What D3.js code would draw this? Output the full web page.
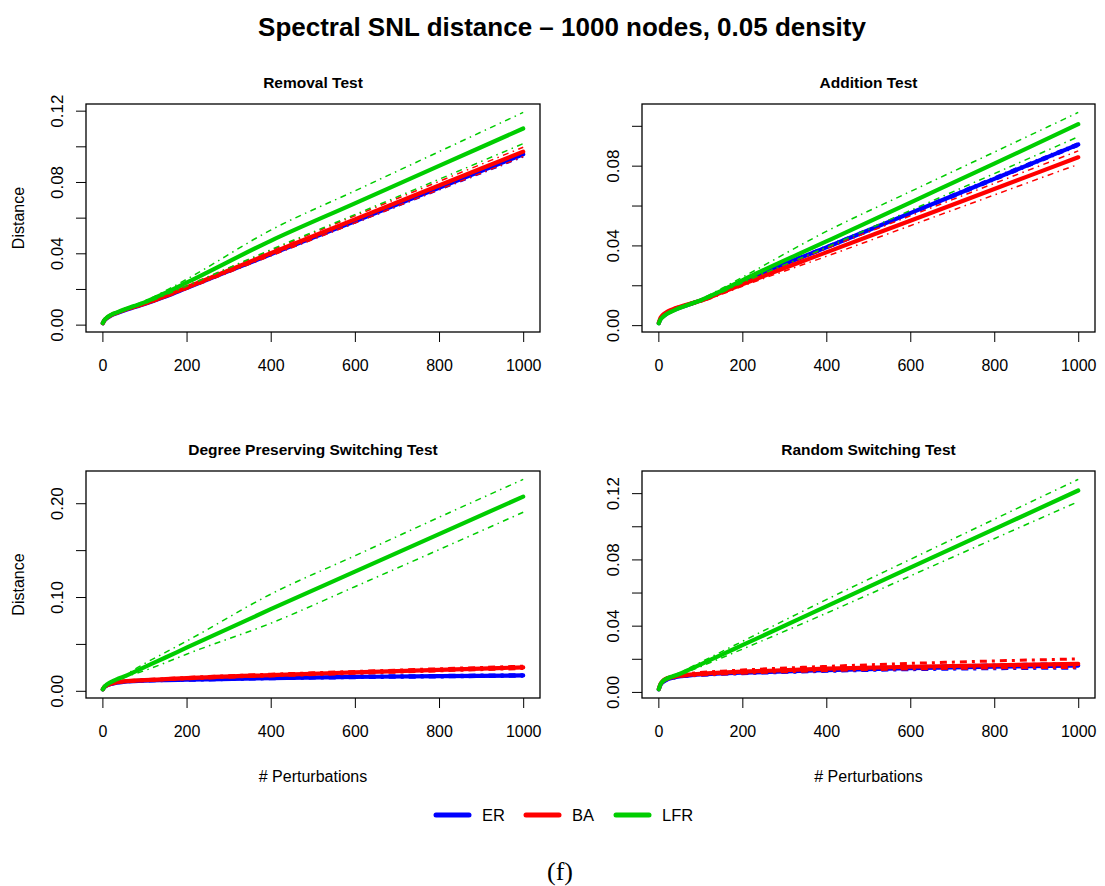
<!DOCTYPE html>
<html>
<head>
<meta charset="utf-8">
<script src="https://cdn.jsdelivr.net/npm/d3@7"></script>
<style>
  body { margin: 0; background: #fff; }
  svg text { font-family: "Liberation Sans", Arial, sans-serif; fill: #000; }
</style>
</head>
<body>
<svg id="chart" width="1105" height="886"></svg>
<script>
// perturbation counts sampled along x
var xs = [1, 5, 10, 20, 35, 50, 75, 100, 150, 200, 400, 600, 800, 1000];

// Removal Test
var remER    = [0.0008, 0.0024, 0.0035, 0.0050, 0.0065, 0.0078, 0.0097, 0.0115, 0.0158, 0.0205, 0.0395, 0.0580, 0.0768, 0.0955];
var remERlo  = [0.0007, 0.0022, 0.0033, 0.0048, 0.0062, 0.0075, 0.0094, 0.0112, 0.0154, 0.0200, 0.0387, 0.0570, 0.0755, 0.0940];
var remERhi  = [0.0009, 0.0026, 0.0037, 0.0052, 0.0068, 0.0081, 0.0100, 0.0118, 0.0162, 0.0210, 0.0403, 0.0590, 0.0780, 0.0968];
var remBA    = [0.0008, 0.0025, 0.0036, 0.0052, 0.0067, 0.0080, 0.0099, 0.0117, 0.0160, 0.0208, 0.0400, 0.0590, 0.0780, 0.0970];
var remBAlo  = [0.0006, 0.0022, 0.0033, 0.0048, 0.0062, 0.0075, 0.0093, 0.0110, 0.0152, 0.0198, 0.0385, 0.0570, 0.0757, 0.0942];
var remBAhi  = [0.0010, 0.0028, 0.0039, 0.0056, 0.0072, 0.0085, 0.0105, 0.0124, 0.0168, 0.0218, 0.0415, 0.0610, 0.0803, 0.0995];
var remLFR   = [0.0009, 0.0026, 0.0038, 0.0054, 0.0069, 0.0083, 0.0104, 0.0125, 0.0178, 0.0235, 0.0470, 0.0680, 0.0890, 0.1100];
var remLFRlo = [0.0008, 0.0024, 0.0036, 0.0051, 0.0065, 0.0078, 0.0098, 0.0117, 0.0166, 0.0216, 0.0420, 0.0617, 0.0815, 0.1015];
var remLFRhi = [0.0010, 0.0028, 0.0040, 0.0057, 0.0073, 0.0088, 0.0110, 0.0133, 0.0190, 0.0254, 0.0530, 0.0750, 0.0970, 0.1190];

// Addition Test
var addER    = [0.0010, 0.0030, 0.0042, 0.0058, 0.0074, 0.0087, 0.0105, 0.0123, 0.0168, 0.0218, 0.0390, 0.0562, 0.0734, 0.0906];
var addERlo  = [0.0009, 0.0028, 0.0040, 0.0056, 0.0071, 0.0084, 0.0102, 0.0120, 0.0164, 0.0213, 0.0383, 0.0554, 0.0725, 0.0897];
var addERhi  = [0.0011, 0.0032, 0.0044, 0.0060, 0.0077, 0.0090, 0.0108, 0.0126, 0.0172, 0.0223, 0.0397, 0.0570, 0.0743, 0.0915];
var addBA    = [0.0012, 0.0036, 0.0050, 0.0066, 0.0080, 0.0091, 0.0107, 0.0122, 0.0163, 0.0205, 0.0365, 0.0524, 0.0683, 0.0842];
var addBAlo  = [0.0010, 0.0033, 0.0046, 0.0062, 0.0075, 0.0086, 0.0101, 0.0115, 0.0154, 0.0195, 0.0345, 0.0499, 0.0653, 0.0807];
var addBAhi  = [0.0014, 0.0039, 0.0054, 0.0070, 0.0085, 0.0096, 0.0113, 0.0129, 0.0172, 0.0215, 0.0385, 0.0548, 0.0711, 0.0874];
var addLFR   = [0.0009, 0.0028, 0.0040, 0.0056, 0.0072, 0.0086, 0.0105, 0.0124, 0.0172, 0.0225, 0.0420, 0.0615, 0.0810, 0.1008];
var addLFRlo = [0.0008, 0.0026, 0.0038, 0.0053, 0.0068, 0.0082, 0.0100, 0.0118, 0.0163, 0.0212, 0.0390, 0.0575, 0.0760, 0.0945];
var addLFRhi = [0.0010, 0.0030, 0.0042, 0.0059, 0.0076, 0.0091, 0.0111, 0.0131, 0.0183, 0.0240, 0.0470, 0.0670, 0.0868, 0.1067];

// Degree Preserving Switching Test
var dpsER    = [0.0015, 0.0040, 0.0055, 0.0072, 0.0087, 0.0096, 0.0104, 0.0109, 0.0114, 0.0118, 0.0136, 0.0148, 0.0156, 0.0164];
var dpsERlo  = [0.0013, 0.0037, 0.0052, 0.0068, 0.0083, 0.0092, 0.0100, 0.0104, 0.0109, 0.0112, 0.0129, 0.0140, 0.0148, 0.0156];
var dpsERhi  = [0.0017, 0.0043, 0.0058, 0.0076, 0.0091, 0.0100, 0.0108, 0.0114, 0.0119, 0.0124, 0.0143, 0.0156, 0.0164, 0.0172];
var dpsBA    = [0.0016, 0.0042, 0.0058, 0.0076, 0.0091, 0.0100, 0.0108, 0.0114, 0.0124, 0.0135, 0.0168, 0.0196, 0.0224, 0.0250];
var dpsBAlo  = [0.0014, 0.0039, 0.0055, 0.0072, 0.0087, 0.0096, 0.0103, 0.0109, 0.0118, 0.0128, 0.0159, 0.0186, 0.0213, 0.0238];
var dpsBAhi  = [0.0018, 0.0045, 0.0061, 0.0080, 0.0095, 0.0104, 0.0113, 0.0119, 0.0130, 0.0142, 0.0177, 0.0206, 0.0235, 0.0262];
var dpsLFR   = [0.0016, 0.0045, 0.0065, 0.0092, 0.0125, 0.0150, 0.0200, 0.0252, 0.0355, 0.0460, 0.0870, 0.1270, 0.1670, 0.2071];
var dpsLFRlo = [0.0015, 0.0042, 0.0061, 0.0087, 0.0118, 0.0140, 0.0178, 0.0215, 0.0300, 0.0390, 0.0720, 0.1110, 0.1505, 0.1904];
var dpsLFRhi = [0.0017, 0.0048, 0.0069, 0.0097, 0.0132, 0.0160, 0.0225, 0.0290, 0.0410, 0.0530, 0.1030, 0.1440, 0.1850, 0.2254];

// Random Switching Test
var rsER    = [0.0015, 0.0042, 0.0058, 0.0074, 0.0086, 0.0094, 0.0100, 0.0105, 0.0111, 0.0116, 0.0131, 0.0143, 0.0152, 0.0159];
var rsERlo  = [0.0014, 0.0040, 0.0055, 0.0071, 0.0082, 0.0090, 0.0096, 0.0100, 0.0106, 0.0110, 0.0124, 0.0134, 0.0140, 0.0144];
var rsERhi  = [0.0016, 0.0044, 0.0061, 0.0077, 0.0090, 0.0098, 0.0104, 0.0110, 0.0116, 0.0122, 0.0138, 0.0152, 0.0163, 0.0172];
var rsBA    = [0.0017, 0.0047, 0.0064, 0.0080, 0.0091, 0.0098, 0.0104, 0.0109, 0.0116, 0.0122, 0.0140, 0.0152, 0.0161, 0.0169];
var rsBAlo  = [0.0015, 0.0044, 0.0060, 0.0076, 0.0086, 0.0093, 0.0098, 0.0102, 0.0108, 0.0113, 0.0129, 0.0139, 0.0145, 0.0148];
var rsBAhi  = [0.0019, 0.0050, 0.0068, 0.0085, 0.0096, 0.0104, 0.0111, 0.0117, 0.0125, 0.0132, 0.0154, 0.0172, 0.0187, 0.0199];
var rsLFR   = [0.0016, 0.0046, 0.0063, 0.0080, 0.0095, 0.0108, 0.0136, 0.0165, 0.0224, 0.0282, 0.0516, 0.0750, 0.0983, 0.1216];
var rsLFRlo = [0.0015, 0.0044, 0.0060, 0.0076, 0.0090, 0.0102, 0.0126, 0.0152, 0.0205, 0.0258, 0.0475, 0.0700, 0.0925, 0.1149];
var rsLFRhi = [0.0017, 0.0048, 0.0066, 0.0084, 0.0100, 0.0114, 0.0146, 0.0178, 0.0242, 0.0305, 0.0557, 0.0800, 0.1042, 0.1283];

var xTicks = [0, 200, 400, 600, 800, 1000];
var remTicks = [0, 0.02, 0.04, 0.06, 0.08, 0.10, 0.12];
var addTicks = [0, 0.02, 0.04, 0.06, 0.08, 0.10];
var dpsTicks = [0, 0.05, 0.10, 0.15, 0.20];
var rsTicks  = [0, 0.02, 0.04, 0.06, 0.08, 0.10, 0.12];

var models = ["ER", "BA", "LFR"];
var colors = {ER: "#0000ff", BA: "#ff0000", LFR: "#00cd00"};

var panels = [
    {title: "Removal Test", box: [86, 104, 540, 332], ticks: remTicks, ylab: true, xlab: false,
     s: {ER: [remER, remERlo, remERhi], BA: [remBA, remBAlo, remBAhi], LFR: [remLFR, remLFRlo, remLFRhi]}},
    {title: "Addition Test", box: [642, 104, 1095, 332], ticks: addTicks, ylab: false, xlab: false,
     s: {ER: [addER, addERlo, addERhi], BA: [addBA, addBAlo, addBAhi], LFR: [addLFR, addLFRlo, addLFRhi]}},
    {title: "Degree Preserving Switching Test", box: [86, 471, 540, 698], ticks: dpsTicks, ylab: true, xlab: true, thick: true,
     s: {ER: [dpsER, dpsERlo, dpsERhi], BA: [dpsBA, dpsBAlo, dpsBAhi], LFR: [dpsLFR, dpsLFRlo, dpsLFRhi]}},
    {title: "Random Switching Test", box: [642, 471, 1095, 698], ticks: rsTicks, ylab: false, xlab: true, thick: true,
     s: {ER: [rsER, rsERlo, rsERhi], BA: [rsBA, rsBAlo, rsBAhi], LFR: [rsLFR, rsLFRlo, rsLFRhi]}}
];

var svg = d3.select("svg#chart");

svg.append("text")
    .attr("x", 562)
    .attr("y", 36)
    .attr("text-anchor", "middle")
    .attr("font-size", "26px")
    .attr("font-weight", "bold")
    .text("Spectral SNL distance \u2013 1000 nodes, 0.05 density");

// R style range: data range widened by 4% on each side
function rRange(lo, hi) {
    var pad = (hi - lo) * 0.04;
    return [lo - pad, hi + pad];
}

panels.forEach(function(p) {
    var left = p.box[0], top = p.box[1], right = p.box[2], bottom = p.box[3];

    var allY = [];
    models.forEach(function(m) { p.s[m].forEach(function(arr) { allY = allY.concat(arr); }); });

    var xScale = d3.scaleLinear().domain(rRange(d3.min(xs), d3.max(xs))).range([left, right]);
    var yScale = d3.scaleLinear().domain(rRange(d3.min(allY), d3.max(allY))).range([bottom, top]);

    var g = svg.append("g");

    // x axis
    var xa = g.append("g")
        .attr("transform", "translate(0," + bottom + ")")
        .call(d3.axisBottom(xScale).tickValues(xTicks).tickSize(10).tickSizeOuter(0).tickPadding(18)
            .tickFormat(d3.format("d")));
    xa.select(".domain").remove();
    xa.selectAll("text").attr("font-size", "16px").attr("font-family", "Liberation Sans, Arial, sans-serif");

    // y axis, every other tick labelled, labels rotated
    var ya = g.append("g")
        .attr("transform", "translate(" + left + ",0)")
        .call(d3.axisLeft(yScale).tickValues(p.ticks).tickSize(10).tickSizeOuter(0)
            .tickFormat(function(d, i) { return i % 2 === 0 ? d3.format(".2f")(d) : ""; }));
    ya.select(".domain").remove();
    ya.selectAll("text")
        .attr("transform", "rotate(-90)")
        .attr("x", 0)
        .attr("y", -23)
        .attr("dy", 0)
        .attr("text-anchor", "middle")
        .attr("font-size", "17px")
        .attr("font-family", "Liberation Sans, Arial, sans-serif");
    g.selectAll(".tick line").attr("stroke", "#000").attr("stroke-width", 1);

    // title
    g.append("text")
        .attr("x", (left + right) / 2)
        .attr("y", top - 16)
        .attr("text-anchor", "middle")
        .attr("font-size", "15.5px")
        .attr("font-weight", "bold")
        .text(p.title);

    if (p.ylab) {
        g.append("text")
            .attr("transform", "translate(" + (left - 62) + "," + ((top + bottom) / 2) + ") rotate(-90)")
            .attr("text-anchor", "middle")
            .attr("font-size", "16px")
            .text("Distance");
    }
    if (p.xlab) {
        g.append("text")
            .attr("x", (left + right) / 2)
            .attr("y", bottom + 84)
            .attr("text-anchor", "middle")
            .attr("font-size", "16px")
            .text("# Perturbations");
    }

    var line = d3.line()
        .x(function(d, i) { return xScale(xs[i]); })
        .y(function(d) { return yScale(d); })
        .curve(d3.curveMonotoneX);

    models.forEach(function(m) {
        var ser = p.s[m];
        var boundW = (p.thick && m !== "LFR") ? 3 : 1.5;
        [ser[1], ser[2]].forEach(function(b) {
            g.append("path")
                .datum(b)
                .attr("d", line)
                .attr("fill", "none")
                .attr("stroke", colors[m])
                .attr("stroke-width", boundW)
                .attr("stroke-dasharray", boundW === 3 ? "3,5,7,5" : "1.5,4.5,6,4.5");
        });
        g.append("path")
            .datum(ser[0])
            .attr("d", line)
            .attr("fill", "none")
            .attr("stroke", colors[m])
            .attr("stroke-width", 4.2)
            .attr("stroke-linecap", "round");
    });

    g.append("rect")
        .attr("x", left)
        .attr("y", top)
        .attr("width", right - left)
        .attr("height", bottom - top)
        .attr("fill", "none")
        .attr("stroke", "#000")
        .attr("stroke-width", 1.3);
});

// legend
var legend = svg.append("g").attr("transform", "translate(436,815)");
models.forEach(function(m, i) {
    var lg = legend.append("g").attr("transform", "translate(" + (i * 90) + ",0)");
    lg.append("line")
        .attr("x1", 0).attr("x2", 33).attr("y1", 0).attr("y2", 0)
        .attr("stroke", colors[m])
        .attr("stroke-width", 5)
        .attr("stroke-linecap", "round");
    lg.append("text")
        .attr("x", 46)
        .attr("y", 6)
        .attr("font-size", "16.5px")
        .text(m);
});

svg.append("text")
    .attr("x", 560)
    .attr("y", 880)
    .attr("text-anchor", "middle")
    .attr("font-size", "26px")
    .style("font-family", "'Liberation Serif', 'DejaVu Serif', serif")
    .text("(f)");
</script>
</body>
</html>
